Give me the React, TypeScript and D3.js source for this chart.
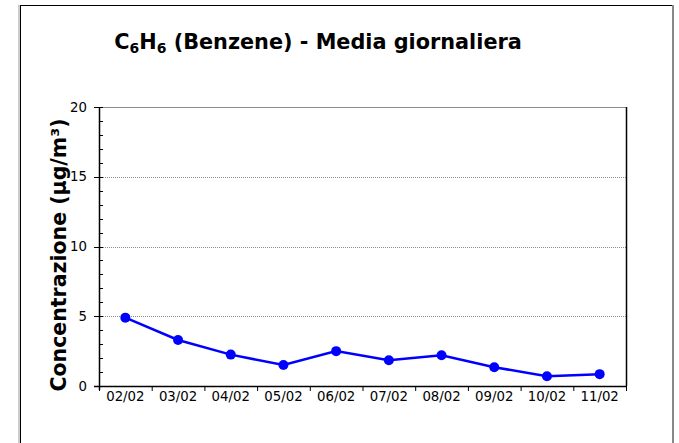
import React from "react";
import * as d3 from "d3";

const categories = ["02/02", "03/02", "04/02", "05/02", "06/02", "07/02", "08/02", "09/02", "10/02", "11/02"];
const values = [4.9, 3.3, 2.25, 1.5, 2.5, 1.85, 2.2, 1.35, 0.7, 0.85];
const yTicks = [0, 5, 10, 15, 20];
const yMinorTicks = d3.range(0, 21, 1);

const W = 679;
const H = 443;
const plot = { left: 99, right: 626, top: 107, bottom: 386 };
const FONT = "'DejaVu Sans', Verdana, sans-serif";

export default function App() {
  const x = d3.scaleBand<string>().domain(categories).range([plot.left, plot.right]).padding(0);
  const y = d3.scaleLinear().domain([0, 20]).range([plot.bottom, plot.top]);
  const line = d3
    .line<number>()
    .x((_, i) => (x(categories[i]) as number) + x.bandwidth() / 2)
    .y((d) => y(d));

  const boundaries = categories.map((c) => x(c) as number).concat([plot.right]);

  return (
    <svg
      width={W}
      height={H}
      style={{ position: "absolute", left: 0, top: 0, background: "#fff" }}
      fontFamily={FONT}
    >
      <rect x={0} y={0} width={W} height={H} fill="#fff" />
      {/* outer frame */}
      <line x1={19} x2={19} y1={5} y2={H} stroke="#999" strokeWidth={1} />
      <line x1={20.5} x2={20.5} y1={5} y2={H} stroke="#000" strokeWidth={1} />
      <line x1={20} x2={673} y1={5.5} y2={5.5} stroke="#000" strokeWidth={1} />
      <line x1={673} x2={673} y1={5} y2={H} stroke="#888" strokeWidth={2} />

      {/* title */}
      <text x={318} y={48.5} textAnchor="middle" fontWeight="bold" fontSize={20.8} fill="#000">
        <tspan>C</tspan>
        <tspan fontSize={14} dy={4}>6</tspan>
        <tspan dy={-4}>H</tspan>
        <tspan fontSize={14} dy={4}>6</tspan>
        <tspan dy={-4}> (Benzene) - Media giornaliera</tspan>
      </text>

      {/* gridlines */}
      {yTicks.filter((t) => t > 0).map((t) => (
        <line
          key={"g" + t}
          x1={plot.left}
          x2={plot.right}
          y1={Math.round(y(t)) + 0.5}
          y2={Math.round(y(t)) + 0.5}
          stroke="#8c8c8c"
          strokeWidth={1}
          strokeDasharray={t === 20 ? undefined : "1,1"}
        />
      ))}

      {/* right border */}
      <line x1={plot.right + 0.5} x2={plot.right + 0.5} y1={plot.top} y2={plot.bottom} stroke="#000" strokeWidth={1.5} />

      {/* y axis */}
      <line x1={plot.left + 0.5} x2={plot.left + 0.5} y1={plot.top} y2={plot.bottom + 4} stroke="#000" strokeWidth={1.5} />
      {yMinorTicks.map((t) => (
        <line
          key={"m" + t}
          x1={plot.left}
          x2={plot.left + 4}
          y1={Math.round(y(t)) + 0.5}
          y2={Math.round(y(t)) + 0.5}
          stroke="#000"
          strokeWidth={1}
        />
      ))}
      {yTicks.map((t) => (
        <g key={"y" + t}>
          <line x1={plot.left - 5} x2={plot.left} y1={Math.round(y(t)) + 0.5} y2={Math.round(y(t)) + 0.5} stroke="#000" strokeWidth={1} />
          <text x={87} y={y(t)} dy="0.35em" textAnchor="end" fontSize={13.3} fill="#000">
            {t}
          </text>
        </g>
      ))}

      {/* x axis */}
      <line x1={plot.left - 5} x2={plot.right + 1} y1={plot.bottom + 0.5} y2={plot.bottom + 0.5} stroke="#000" strokeWidth={1.5} />
      {boundaries.map((b, i) => (
        <line key={"xt" + i} x1={b + 0.5} x2={b + 0.5} y1={plot.bottom} y2={plot.bottom + 5} stroke="#000" strokeWidth={1} />
      ))}
      {categories.map((c) => (
        <text key={c} x={(x(c) as number) + x.bandwidth() / 2} y={400.5} textAnchor="middle" fontSize={13.3} fill="#000">
          {c}
        </text>
      ))}

      {/* y axis title */}
      <text
        transform={`translate(66, 255) rotate(-90)`}
        textAnchor="middle"
        fontWeight="bold"
        fontSize={20.5}
        fill="#000"
      >
        Concentrazione (µg/m³)
      </text>

      {/* series */}
      <path d={line(values) as string} fill="none" stroke="#0000ff" strokeWidth={2.5} />
      {values.map((v, i) => (
        <circle key={"p" + i} cx={(x(categories[i]) as number) + x.bandwidth() / 2} cy={y(v)} r={5} fill="#0000ff" />
      ))}
    </svg>
  );
}
